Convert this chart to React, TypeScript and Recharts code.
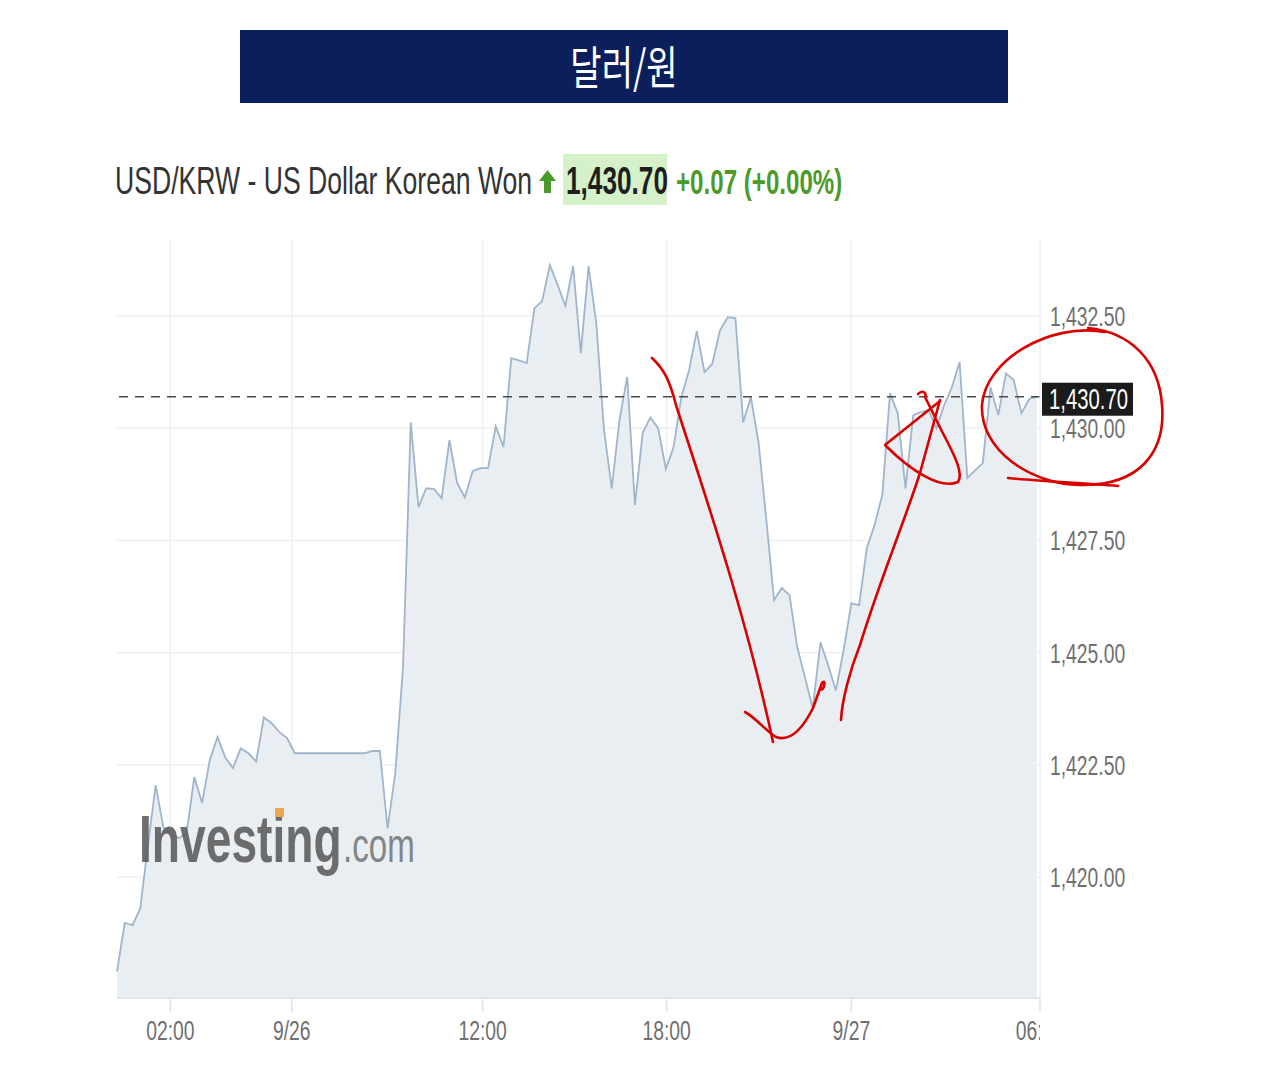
import React from "react";
import { AreaChart, Area, XAxis, YAxis, CartesianGrid, ReferenceLine } from "recharts";

// USD/KRW 15분 간격 종가 (9/25 심야 ~ 9/27 오전)
const PRICES_NIGHT = [
  1417.9, 1418.98, 1418.93, 1419.3, 1420.7, 1422.05, 1421.11, 1420.98, 1420.87, 1420.98,
  1422.23, 1421.65, 1422.61, 1423.12, 1422.67, 1422.43, 1422.87, 1422.76, 1422.58, 1423.56,
  1423.43, 1423.23, 1423.1, 1422.76, 1422.76, 1422.76, 1422.76, 1422.76, 1422.76, 1422.76,
  1422.76, 1422.76, 1422.76, 1422.81, 1422.81, 1421.09, 1422.32, 1424.68,
];
const PRICES_DAY = [
  1430.13, 1428.24, 1428.66, 1428.64, 1428.44, 1429.73, 1428.78, 1428.46, 1429.04, 1429.11,
  1429.11, 1430.04, 1429.58, 1431.56, 1431.51, 1431.45, 1432.67, 1432.83, 1433.63, 1433.19,
  1432.72, 1433.61, 1431.67, 1433.61, 1432.34, 1429.96, 1428.66, 1430.18, 1431.14, 1428.29,
  1429.89, 1430.24, 1430.0, 1429.09, 1429.58, 1430.69, 1431.29, 1432.16, 1431.25, 1431.43,
  1432.18, 1432.47, 1432.45, 1430.13, 1430.69, 1429.67, 1427.95,
];
const PRICES_LATE = [
  1426.17, 1426.44, 1426.28, 1425.12, 1424.45, 1423.76, 1425.23, 1424.72, 1424.16, 1425.06,
  1426.1, 1426.06, 1427.33, 1427.84, 1428.51, 1430.78, 1430.33, 1428.66, 1430.29, 1430.36,
  1430.4, 1430.0, 1430.51, 1430.91, 1431.47, 1428.89, 1429.06, 1429.22, 1430.91, 1430.29,
  1431.22, 1431.07, 1430.33, 1430.65, 1430.7,
];

const TICK_SLOTS = [6.9, 22.6, 47.3, 71.1, 95.0, 119.4];
const TICK_LABELS = ["02:00", "9/26", "12:00", "18:00", "9/27", "06:00"];
const Y_TICKS = [1420, 1422.5, 1425, 1427.5, 1430, 1432.5];
const Y_DOMAIN = [1417.31, 1434.19];
const X_DOMAIN = [0, 119.4];
const LAST_PRICE = 1430.7;

const data = [...PRICES_NIGHT, ...PRICES_DAY, ...PRICES_LATE].map((price, slot) => ({ slot, price }));

const FONT = "'Liberation Sans', Arial, sans-serif";
const SQUEEZE = 0.69;
const AXIS_TEXT = "#6f6f6f";

const fmt = (v: number) =>
  v.toLocaleString("en-US", { minimumFractionDigits: 2, maximumFractionDigits: 2 });

function SqText({ x, y, sx = SQUEEZE, children, ...rest }: any) {
  return (
    <g transform={`translate(${x},${y}) scale(${sx},1)`}>
      <text x={0} y={0} fontFamily={FONT} {...rest}>
        {children}
      </text>
    </g>
  );
}

function XTick({ x, y, payload }: any) {
  const idx = TICK_SLOTS.indexOf(payload.value);
  const label = idx >= 0 ? TICK_LABELS[idx] : "";
  return (
    <g>
      <clipPath id={`xclip-${idx}`}>
        <rect x={0} y={0} width={1040} height={1079} />
      </clipPath>
      <g clipPath={`url(#xclip-${idx})`}>
        <SqText x={x} y={y + 26} fontSize={28} fill={AXIS_TEXT} textAnchor="middle">
          {label}
        </SqText>
      </g>
    </g>
  );
}

function YTick({ x, y, payload }: any) {
  return (
    <SqText x={x + 2} y={y + 10} fontSize={28} fill={AXIS_TEXT}>
      {fmt(payload.value)}
    </SqText>
  );
}

function PriceTag({ viewBox }: any) {
  const right = viewBox.x + viewBox.width;
  const cy = viewBox.y;
  return (
    <g>
      <rect x={right + 2} y={cy - 14} width={91} height={33} fill="#1b1b1b" />
      <SqText x={right + 9} y={cy + 12} sx={0.7} fontSize={29} fill="#ffffff">
        {fmt(LAST_PRICE)}
      </SqText>
    </g>
  );
}

// 격자선은 눈금 위치에만 (플롯 가장자리 제외)
const hLines = ({ offset }: any) =>
  Y_TICKS.map(
    (t) => offset.top + ((Y_DOMAIN[1] - t) / (Y_DOMAIN[1] - Y_DOMAIN[0])) * offset.height
  );
const vLines = ({ offset }: any) =>
  TICK_SLOTS.slice(0, -1).map(
    (t) => offset.left + ((t - X_DOMAIN[0]) / (X_DOMAIN[1] - X_DOMAIN[0])) * offset.width
  );

export default function App() {
  return (
    <div style={{ position: "absolute", left: 0, top: 0, width: 1278, height: 1079, background: "#fff" }}>
      <div style={{ position: "absolute", left: 0, top: 0 }}>
        <AreaChart
          width={1278}
          height={1079}
          data={data}
          margin={{ top: 240, right: 148, bottom: 41, left: 117 }}
        >
          <CartesianGrid
            stroke="#efefef"
            strokeWidth={1.5}
            horizontalCoordinatesGenerator={hLines}
            verticalCoordinatesGenerator={vLines}
          />
          <XAxis
            dataKey="slot"
            type="number"
            domain={X_DOMAIN}
            ticks={TICK_SLOTS}
            interval={0}
            height={40}
            stroke="#dfe5ea"
            strokeWidth={2}
            tickSize={14}
            tickMargin={2}
            tickLine={{ stroke: "#e2e2e2", strokeWidth: 1.5 }}
            tick={<XTick />}
          />
          <YAxis
            orientation="right"
            type="number"
            domain={Y_DOMAIN}
            ticks={Y_TICKS}
            interval={0}
            width={90}
            stroke="#e6e6e6"
            tickLine={false}
            tick={<YTick />}
          />
          <Area
            type="linear"
            dataKey="price"
            stroke="#9fb5cb"
            strokeWidth={1.8}
            fill="#e9eef3"
            fillOpacity={1}
            dot={false}
            activeDot={false}
            isAnimationActive={false}
          />
          <ReferenceLine
            y={LAST_PRICE}
            stroke="#4a4a4a"
            strokeWidth={1.5}
            strokeDasharray="9 7"
            label={<PriceTag />}
          />
        </AreaChart>
      </div>

      <svg
        width={1278}
        height={1079}
        style={{ position: "absolute", left: 0, top: 0, pointerEvents: "none" }}
      >
        {/* 제목 배너 */}
        <rect x={240} y={30} width={768} height={73} fill="#0b1f5c" />
        <g transform={`translate(624,84) scale(0.74,1)`}>
          <text
            x={0}
            y={0}
            textAnchor="middle"
            fontSize={46}
            fill="#ffffff"
            fontFamily="'Noto Sans CJK KR', sans-serif"
          >
            달러/원
          </text>
        </g>

        {/* 헤더 */}
        <SqText x={115} y={194} sx={0.7} fontSize={38} fill="#333333">
          USD/KRW - US Dollar Korean Won
        </SqText>
        <polygon
          points="547.5,170 556,181 551,181 551,193 544,193 544,181 539,181"
          fill="#4c9a2a"
        />
        <rect x={563} y={154} width={104} height={51} fill="#d4f1c9" />
        <SqText x={566} y={194} fontSize={38} fontWeight="bold" fill="#1e1e1e">
          1,430.70
        </SqText>
        <SqText x={676} y={194} fontSize={35} fontWeight="bold" fill="#4c9a2a">
          +0.07 (+0.00%)
        </SqText>

        {/* 워터마크 */}
        <g opacity={0.9}>
          <SqText x={139} y={862} sx={0.7} fontSize={66} fontWeight="bold" fill="#5f5f5f">
            Investing
          </SqText>
          <rect x={275} y={808} width={9} height={9} fill="#e8a33c" />
          <SqText x={343} y={862} fontSize={48} fill="#7a7a7a">
            .com
          </SqText>
        </g>

        {/* 손글씨 표시 */}
        <g fill="none" stroke="#d90000" strokeWidth={2.6} strokeLinecap="round" strokeLinejoin="round">
          <path d="M652,358 C665,370 670,382 676,405 C700,480 745,610 773,742" />
          <path d="M745,712 C756,718 766,731 776,737 C790,742 802,730 813,708 L822,683 C826,678 825,690 820,690" />
          <path d="M841,720 C842,700 850,670 860,645 C880,580 905,520 920,473 L940,400" />
          <path d="M918,394 C922,390 927,392 925,397 L933,413 C945,440 966,470 958,482 C940,490 910,470 885,445 L940,401" />
          <path d="M1105,332 C1050,322 985,360 982,405 C980,450 1030,484 1080,485 C1140,486 1166,452 1162,405 C1159,360 1130,332 1088,328" />
          <path d="M1008,478 C1040,481 1080,483 1118,486" />
        </g>
      </svg>
    </div>
  );
}
